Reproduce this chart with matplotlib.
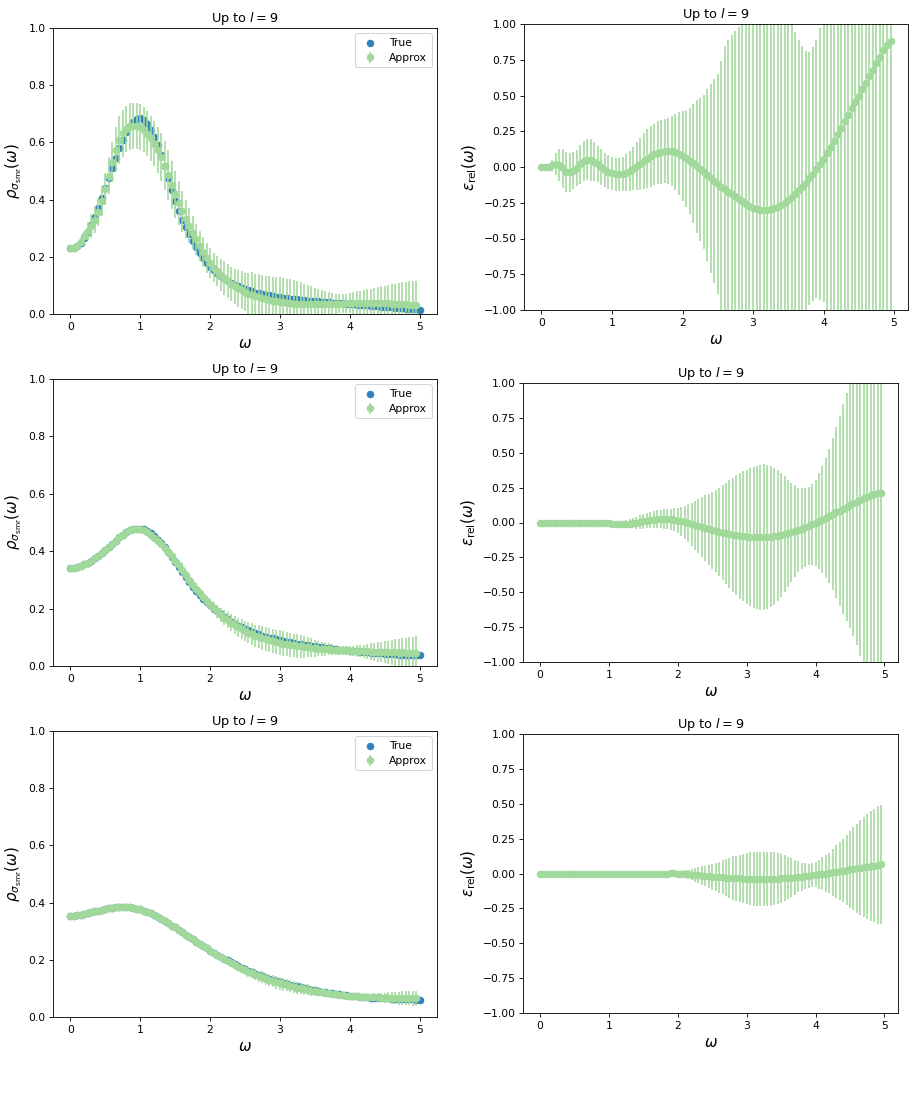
import numpy as np
import matplotlib
matplotlib.use("Agg")
import matplotlib.pyplot as plt

# omega grid: true curve goes to 5.0, the approximation stops at 4.95
omega = np.linspace(0, 5, 101)
omega_fit = omega[:-1]

# ---- row 1 ----
rho_true_1 = [
    0.230, 0.232, 0.238, 0.250, 0.266, 0.287, 0.312, 0.340, 0.371, 0.404,
    0.439, 0.475, 0.511, 0.546, 0.579, 0.609, 0.635, 0.656, 0.672, 0.682,
    0.684, 0.678, 0.665, 0.645, 0.620, 0.590, 0.555, 0.516, 0.475, 0.434,
    0.395, 0.361, 0.330, 0.303, 0.279, 0.256, 0.235, 0.215, 0.197, 0.180,
    0.165, 0.153, 0.143, 0.134, 0.125, 0.117, 0.110, 0.103, 0.097, 0.092,
    0.087, 0.083, 0.079, 0.075, 0.072, 0.069, 0.067, 0.065, 0.063, 0.061,
    0.059, 0.057, 0.055, 0.054, 0.052, 0.051, 0.049, 0.048, 0.047, 0.046,
    0.045, 0.044, 0.043, 0.042, 0.041, 0.040, 0.039, 0.038, 0.037, 0.036,
    0.035, 0.034, 0.033, 0.032, 0.031, 0.030, 0.029, 0.028, 0.027, 0.026,
    0.025, 0.024, 0.023, 0.022, 0.021, 0.020, 0.019, 0.018, 0.017, 0.016,
    0.015]
eps_1 = [
    0.000, 0.000, 0.002, 0.012, 0.022, 0.015, -0.010, -0.032, -0.038, -0.025,
    -0.005, 0.018, 0.040, 0.052, 0.050, 0.038, 0.020, 0.000, -0.020, -0.035,
    -0.045, -0.050, -0.052, -0.048, -0.040, -0.028, -0.012, 0.005, 0.022, 0.040,
    0.058, 0.074, 0.088, 0.100, 0.108, 0.112, 0.113, 0.110, 0.103, 0.092,
    0.078, 0.062, 0.044, 0.025, 0.005, -0.015, -0.036, -0.057, -0.078, -0.098,
    -0.118, -0.137, -0.156, -0.174, -0.190, -0.206, -0.221, -0.240, -0.258, -0.272,
    -0.284, -0.293, -0.299, -0.302, -0.300, -0.296, -0.289, -0.279, -0.266, -0.250,
    -0.232, -0.211, -0.188, -0.163, -0.137, -0.109, -0.080, -0.048, -0.015, 0.020,
    0.055, 0.097, 0.140, 0.185, 0.230, 0.275, 0.320, 0.365, 0.410, 0.455,
    0.500, 0.545, 0.590, 0.635, 0.680, 0.725, 0.770, 0.815, 0.855, 0.880]
sig_1 = [
    0.000, 0.008, 0.020, 0.040, 0.075, 0.110, 0.135, 0.140, 0.135, 0.130,
    0.125, 0.135, 0.140, 0.145, 0.145, 0.135, 0.128, 0.124, 0.120, 0.118,
    0.117, 0.116, 0.117, 0.121, 0.128, 0.138, 0.152, 0.168, 0.182, 0.195,
    0.206, 0.212, 0.216, 0.220, 0.224, 0.227, 0.232, 0.245, 0.265, 0.290,
    0.315, 0.340, 0.370, 0.415, 0.465, 0.500, 0.540, 0.600, 0.660, 0.715,
    0.770, 0.880, 1.000, 1.060, 1.110, 1.160, 1.200, 1.260, 1.330, 1.400,
    1.460, 1.510, 1.550, 1.570, 1.580, 1.570, 1.540, 1.490, 1.420, 1.350,
    1.280, 1.210, 1.130, 1.050, 0.980, 0.920, 0.885, 0.890, 0.900, 0.950,
    1.000, 1.120, 1.250, 1.350, 1.450, 1.600, 1.750, 1.900, 2.050, 2.250,
    2.450, 2.700, 2.950, 3.200, 3.500, 3.800, 4.150, 4.500, 4.900, 5.300]

# ---- row 2 ----
rho_true_2 = [
    0.340, 0.342, 0.345, 0.349, 0.354, 0.360, 0.367, 0.375, 0.384, 0.394,
    0.404, 0.415, 0.426, 0.437, 0.448, 0.458, 0.467, 0.474, 0.478, 0.479,
    0.479, 0.476, 0.471, 0.463, 0.452, 0.440, 0.427, 0.413, 0.398, 0.381,
    0.364, 0.346, 0.328, 0.310, 0.292, 0.277, 0.262, 0.248, 0.234, 0.222,
    0.211, 0.200, 0.190, 0.180, 0.171, 0.163, 0.155, 0.148, 0.141, 0.135,
    0.129, 0.124, 0.119, 0.114, 0.110, 0.106, 0.102, 0.099, 0.096, 0.093,
    0.090, 0.087, 0.085, 0.082, 0.080, 0.078, 0.076, 0.074, 0.072, 0.070,
    0.068, 0.066, 0.065, 0.063, 0.062, 0.060, 0.059, 0.057, 0.056, 0.055,
    0.053, 0.052, 0.051, 0.050, 0.049, 0.048, 0.047, 0.046, 0.045, 0.044,
    0.043, 0.042, 0.042, 0.041, 0.040, 0.040, 0.039, 0.039, 0.038, 0.038,
    0.037]
eps_2 = [
    0.000, 0.000, 0.000, 0.000, 0.000, 0.000, 0.000, 0.000, 0.000, 0.000,
    0.000, 0.000, 0.000, 0.000, 0.000, 0.000, 0.000, 0.000, -0.002, -0.004,
    -0.006, -0.008, -0.010, -0.011, -0.011, -0.010, -0.008, -0.005, -0.001, 0.004,
    0.009, 0.014, 0.018, 0.021, 0.024, 0.025, 0.026, 0.025, 0.023, 0.019,
    0.014, 0.008, 0.002, -0.005, -0.012, -0.019, -0.027, -0.034, -0.041, -0.048,
    -0.055, -0.061, -0.067, -0.073, -0.078, -0.083, -0.088, -0.092, -0.096, -0.099,
    -0.102, -0.104, -0.105, -0.106, -0.106, -0.105, -0.104, -0.101, -0.098, -0.094,
    -0.089, -0.084, -0.077, -0.070, -0.062, -0.054, -0.045, -0.035, -0.025, -0.014,
    -0.003, 0.009, 0.021, 0.033, 0.046, 0.059, 0.072, 0.085, 0.098, 0.111,
    0.124, 0.137, 0.150, 0.162, 0.174, 0.185, 0.195, 0.204, 0.211, 0.215]
sig_2 = [
    0.000, 0.000, 0.000, 0.000, 0.000, 0.000, 0.000, 0.000, 0.000, 0.000,
    0.000, 0.000, 0.000, 0.000, 0.000, 0.000, 0.000, 0.000, 0.000, 0.000,
    0.004, 0.008, 0.013, 0.018, 0.023, 0.028, 0.033, 0.038, 0.043, 0.048,
    0.053, 0.057, 0.060, 0.063, 0.066, 0.068, 0.070, 0.073, 0.077, 0.083,
    0.090, 0.102, 0.118, 0.136, 0.155, 0.175, 0.195, 0.215, 0.235, 0.255,
    0.275, 0.295, 0.315, 0.339, 0.363, 0.387, 0.410, 0.430, 0.449, 0.466,
    0.480, 0.493, 0.505, 0.514, 0.520, 0.521, 0.517, 0.507, 0.490, 0.468,
    0.442, 0.414, 0.385, 0.356, 0.328, 0.304, 0.290, 0.282, 0.280, 0.290,
    0.310, 0.345, 0.385, 0.430, 0.480, 0.545, 0.610, 0.680, 0.755, 0.815,
    0.880, 0.950, 1.030, 1.120, 1.200, 1.270, 1.340, 1.400, 1.450, 1.500]

# ---- row 3 ----
rho_true_3 = [
    0.352, 0.354, 0.356, 0.358, 0.361, 0.363, 0.366, 0.369, 0.372, 0.375,
    0.378, 0.380, 0.382, 0.384, 0.385, 0.385, 0.385, 0.384, 0.382, 0.379,
    0.376, 0.372, 0.367, 0.362, 0.356, 0.349, 0.342, 0.335, 0.327, 0.319,
    0.313, 0.305, 0.296, 0.288, 0.279, 0.271, 0.263, 0.255, 0.247, 0.240,
    0.232, 0.225, 0.218, 0.211, 0.204, 0.198, 0.191, 0.185, 0.179, 0.173,
    0.168, 0.162, 0.157, 0.152, 0.147, 0.143, 0.138, 0.134, 0.130, 0.126,
    0.123, 0.119, 0.116, 0.113, 0.110, 0.107, 0.104, 0.101, 0.099, 0.096,
    0.094, 0.091, 0.089, 0.087, 0.085, 0.083, 0.081, 0.080, 0.078, 0.076,
    0.075, 0.074, 0.072, 0.071, 0.070, 0.069, 0.068, 0.068, 0.067, 0.066,
    0.065, 0.065, 0.064, 0.064, 0.063, 0.063, 0.062, 0.062, 0.062, 0.061,
    0.061]
eps_3 = [
    0.000, 0.000, 0.000, 0.000, 0.000, 0.000, 0.000, 0.000, 0.000, 0.000,
    0.000, 0.000, 0.000, 0.000, 0.000, 0.000, 0.000, 0.000, 0.000, 0.000,
    0.000, 0.000, 0.000, 0.000, 0.000, 0.000, 0.000, 0.000, 0.000, 0.000,
    0.000, 0.000, 0.000, 0.000, 0.000, 0.000, 0.000, 0.000, 0.001, 0.001,
    0.000, -0.002, -0.004, -0.006, -0.008, -0.011, -0.013, -0.015, -0.018, -0.020,
    -0.022, -0.024, -0.026, -0.028, -0.030, -0.031, -0.033, -0.034, -0.035, -0.036,
    -0.037, -0.038, -0.039, -0.039, -0.040, -0.040, -0.040, -0.039, -0.038, -0.037,
    -0.035, -0.033, -0.031, -0.029, -0.027, -0.024, -0.022, -0.019, -0.016, -0.013,
    -0.010, -0.007, -0.003, 0.000, 0.004, 0.008, 0.012, 0.016, 0.020, 0.025,
    0.029, 0.033, 0.037, 0.041, 0.045, 0.049, 0.053, 0.057, 0.061, 0.065]
sig_3 = [
    0.000, 0.000, 0.000, 0.000, 0.000, 0.000, 0.000, 0.000, 0.000, 0.000,
    0.000, 0.000, 0.000, 0.000, 0.000, 0.000, 0.000, 0.000, 0.000, 0.000,
    0.000, 0.000, 0.000, 0.000, 0.000, 0.000, 0.000, 0.000, 0.000, 0.000,
    0.001, 0.002, 0.003, 0.004, 0.005, 0.006, 0.008, 0.009, 0.011, 0.013,
    0.016, 0.022, 0.028, 0.034, 0.040, 0.048, 0.057, 0.066, 0.075, 0.084,
    0.093, 0.102, 0.111, 0.122, 0.133, 0.144, 0.155, 0.163, 0.171, 0.178,
    0.185, 0.189, 0.192, 0.194, 0.195, 0.195, 0.194, 0.192, 0.189, 0.183,
    0.175, 0.163, 0.150, 0.137, 0.124, 0.111, 0.100, 0.092, 0.087, 0.085,
    0.090, 0.103, 0.118, 0.131, 0.145, 0.167, 0.190, 0.207, 0.225, 0.250,
    0.275, 0.298, 0.320, 0.340, 0.360, 0.378, 0.395, 0.408, 0.420, 0.425]

rows = [(rho_true_1, eps_1, sig_1),
        (rho_true_2, eps_2, sig_2),
        (rho_true_3, eps_3, sig_3)]

true_color = "#3182bd"
approx_color = "#a1d99b"

W, H = 915, 1106
DPI = 77.4
fig = plt.figure(figsize=(W / DPI, H / DPI), dpi=DPI)

# axes boxes in pixels: (left, top, right, bottom)
left_boxes = [(53, 28, 437, 314), (53, 379, 437, 666), (53, 731, 437, 1017)]
right_boxes = [(524, 24, 908, 310), (523, 383, 898, 662), (523, 734, 898, 1013)]


def box(b):
    l, t, r, bt = b
    return [l / W, 1 - bt / H, (r - l) / W, (bt - t) / H]


for i, (rho, eps, sig) in enumerate(rows):
    rho = np.array(rho)
    eps = np.array(eps)
    sig = np.array(sig)
    base = rho[:-1]
    approx = base * (1 + eps)
    err = base * sig

    ax = fig.add_axes(box(left_boxes[i]))
    ax.scatter(omega, rho, color=true_color, label="True")
    ax.errorbar(omega_fit, approx, yerr=err, fmt="o", color=approx_color, label="Approx")
    ax.set_ylim(0, 1)
    ax.set_xticks([0, 1, 2, 3, 4, 5])
    ax.set_title(r"Up to $l = 9$")
    ax.set_xlabel(r"$\omega$", fontsize=14)
    ax.set_ylabel(r"$\rho_{\sigma_{\rm smr}}(\omega)$", fontsize=14)
    ax.legend(loc="upper right")

    ax2 = fig.add_axes(box(right_boxes[i]))
    ax2.errorbar(omega_fit, eps, yerr=sig, fmt="o", color=approx_color)
    ax2.set_ylim(-1, 1)
    ax2.set_xticks([0, 1, 2, 3, 4, 5])
    ax2.set_title(r"Up to $l = 9$")
    ax2.set_xlabel(r"$\omega$", fontsize=14)
    ax2.set_ylabel(r"$\varepsilon_{\rm rel}(\omega)$", fontsize=14)

fig.savefig("out.png", dpi=DPI)
